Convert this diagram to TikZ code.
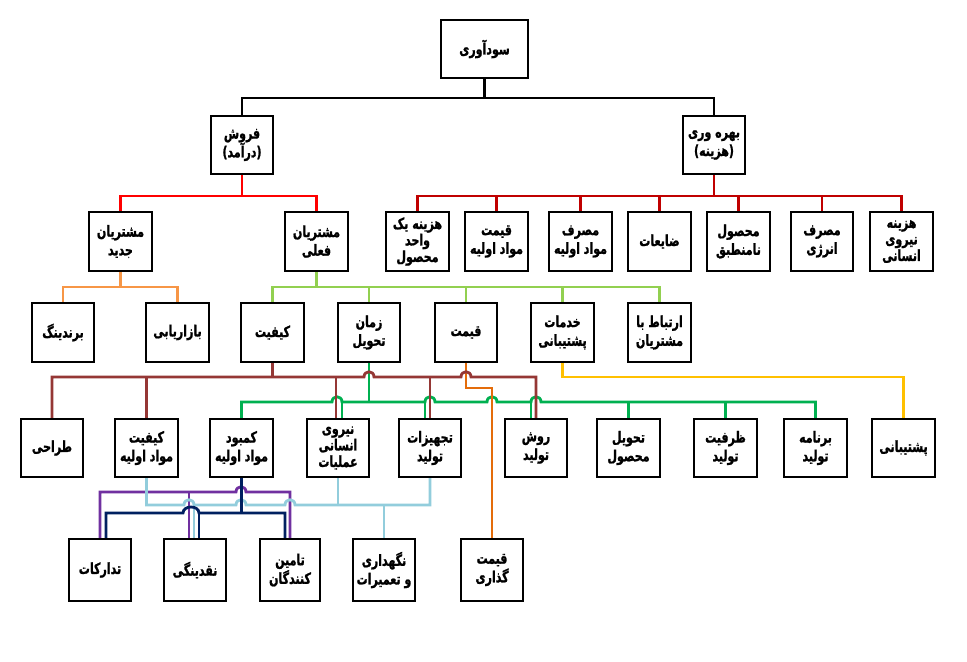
\documentclass[tikz,border=0pt]{standalone}
\usepackage{fontspec}
\newfontfamily\arabicfont[Script=Arabic,FakeStretch=0.72,BoldFeatures={FakeBold=1.2}]{DejaVu Sans}
\TeXXeTstate=1
\newcommand{\fa}[1]{\beginR #1\endR}
\definecolor{cdr}{HTML}{C00000}
\definecolor{col}{HTML}{F79646}
\definecolor{clg}{HTML}{92D050}
\definecolor{cbr}{HTML}{953735}
\definecolor{cdg}{HTML}{00B050}
\definecolor{cor}{HTML}{E46C0A}
\definecolor{cyl}{HTML}{FFC000}
\definecolor{clb}{HTML}{92CDDC}
\definecolor{cpu}{HTML}{7030A0}
\definecolor{cnv}{HTML}{002060}
\begin{document}
\begin{tikzpicture}[x=0.75pt,y=-0.75pt,
  box/.style={draw=black,line width=1.1pt,fill=white,minimum width=46.5pt,minimum height=43.5pt,inner sep=0pt,align=center,font=\arabicfont\bfseries\fontsize{11.5}{14}\selectfont},
  tight/.style={font=\arabicfont\bfseries\fontsize{11.5}{12.4}\selectfont},
  conn/.style={line width=2.1pt},
  ckb/.style={conn,draw=black},
  ckr/.style={conn,draw=red},
  ckd/.style={conn,draw=cdr},
  cko/.style={conn,draw=col},
  ckg/.style={conn,draw=clg},
  ckbr/.style={conn,draw=cbr},
  ckdg/.style={conn,draw=cdg},
  ckor/.style={conn,draw=cor},
  cky/.style={conn,draw=cyl},
  cklb/.style={conn,draw=clb},
  ckpu/.style={conn,draw=cpu},
  cknv/.style={conn,draw=cnv}]
\useasboundingbox (0,0) rectangle (967,661);
\fill[white] (0,0) rectangle (967,661);

% black
\draw[ckb] (484.5,78) -- (484.5,98);
\draw[ckb] (242,116) -- (242,98) -- (714,98) -- (714,116);
% red
\draw[ckr] (242,174) -- (242,196);
\draw[ckr] (120.5,213) -- (120.5,196) -- (316.5,196) -- (316.5,213);
\draw[ckd] (714,174) -- (714,196);
\draw[ckd] (417.5,213) -- (417.5,196) -- (901.5,196) -- (901.5,213);
\foreach \x in {496.5,580.5,659.5,738.5,822} \draw[ckd] (\x,196) -- (\x,213);

% nodes
\node[box,minimum width=65.25pt] (top) at (484.5,49) {\fa{سودآوری}};
\node[box] (sales) at (242,145) {\fa{فروش}\\\fa{(درآمد)}};
\node[box] (prod) at (714,145) {\fa{بهره وری}\\\fa{(هزینه)}};

\node[box] (c1) at (120.5,241.5) {\fa{مشتریان}\\\fa{جدید}};
\node[box] (c2) at (316.5,241.5) {\fa{مشتریان}\\\fa{فعلی}};
\node[box,tight] (c3) at (417.5,241.5) {\fa{هزینه یک}\\\fa{واحد}\\\fa{محصول}};
\node[box] (c4) at (496.5,241.5) {\fa{قیمت}\\\fa{مواد اولیه}};
\node[box] (c5) at (580.5,241.5) {\fa{مصرف}\\\fa{مواد اولیه}};
\node[box] (c6) at (659.5,241.5) {\fa{ضایعات}};
\node[box] (c7) at (738.5,241.5) {\fa{محصول}\\\fa{نامنطبق}};
\node[box] (c8) at (822,241.5) {\fa{مصرف}\\\fa{انرژی}};
\node[box,tight] (c9) at (901.5,241.5) {\fa{هزینه}\\\fa{نیروی}\\\fa{انسانی}};

\node[box] (r1) at (63,332.5) {\fa{برندینگ}};
\node[box] (r2) at (177.5,332.5) {\fa{بازاریابی}};
\node[box] (r3) at (272.5,332.5) {\fa{کیفیت}};
\node[box] (r4) at (369,332.5) {\fa{زمان}\\\fa{تحویل}};
\node[box] (r5) at (466,332.5) {\fa{قیمت}};
\node[box] (r6) at (562.5,332.5) {\fa{خدمات}\\\fa{پشتیبانی}};
\node[box] (r7) at (659.5,332.5) {\fa{ارتباط با}\\\fa{مشتریان}};

\node[box] (d1) at (52,448) {\fa{طراحی}};
\node[box] (d2) at (146.5,448) {\fa{کیفیت}\\\fa{مواد اولیه}};
\node[box] (d3) at (241.5,448) {\fa{کمبود}\\\fa{مواد اولیه}};
\node[box,tight] (d4) at (338,448) {\fa{نیروی}\\\fa{انسانی}\\\fa{عملیات}};
\node[box] (d5) at (430,448) {\fa{تجهیزات}\\\fa{تولید}};
\node[box] (d6) at (536,448) {\fa{روش}\\\fa{تولید}};
\node[box] (d7) at (628.5,448) {\fa{تحویل}\\\fa{محصول}};
\node[box] (d8) at (725.5,448) {\fa{ظرفیت}\\\fa{تولید}};
\node[box] (d9) at (815.5,448) {\fa{برنامه}\\\fa{تولید}};
\node[box] (d10) at (903.5,448) {\fa{پشتیبانی}};

\node[box,minimum height=46.5pt] (e1) at (100,570) {\fa{تدارکات}};
\node[box,minimum height=46.5pt] (e2) at (195,570) {\fa{نقدینگی}};
\node[box,minimum height=46.5pt,minimum width=45pt] (e3) at (290,570) {\fa{تامین}\\\fa{کنندگان}};
\node[box,minimum height=46.5pt] (e4) at (384,570) {\fa{نگهداری}\\\fa{و تعمیرات}};
\node[box,minimum height=46.5pt] (e5) at (492,570) {\fa{قیمت}\\\fa{گذاری}};

% light orange and light green
\draw[cko] (c1.south) -- (c1.south |- 0,287);
\draw[cko] (r1.north) -- (r1.north |- 0,287) -- (r2.north |- 0,287) -- (r2.north);
\draw[ckg] (c2.south) -- (c2.south |- 0,287);
\draw[ckg] (r3.north) -- (r3.north |- 0,287) -- (r7.north |- 0,287) -- (r7.north);
\foreach \n in {r4,r5,r6} \draw[ckg] (\n.north) -- (\n.north |- 0,287);

% yellow
\draw[cky] (r6.south) -- (r6.south |- 0,377) -- (d10.north |- 0,377) -- (d10.north);

% dark green (zaman tahvil)
\draw[ckdg] (r4.south) -- (r4.south |- 0,402);
\draw[ckdg] (d3.north) -- (d3.north |- 0,402) -- (332,402)
  .. controls (332,395) and (342,395) .. (342,402) -- (425,402)
  .. controls (425,395) and (435,395) .. (435,402) -- (487,402)
  .. controls (487,395) and (497,395) .. (497,402) -- (531,402)
  .. controls (531,395) and (541,395) .. (541,402) -- (d9.north |- 0,402) -- (d9.north);
\draw[ckdg] (342,402) -- (342,402 |- d4.north);
\draw[ckdg] (425,402) -- (425,402 |- d5.north);
\draw[ckdg] (531,402) -- (531,402 |- d6.north);
\foreach \n in {d7,d8} \draw[ckdg] (\n.north) -- (\n.north |- 0,402);

% orange (gheymat)
\draw[ckor] (r5.south) -- (r5.south |- 0,388) -- (e5.north |- 0,388) -- (e5.north);

% brown (keyfiyat)
\draw[ckbr] (r3.south) -- (r3.south |- 0,377);
\draw[ckbr] (d1.north) -- (d1.north |- 0,377) -- (364,377)
  .. controls (364,370) and (374,370) .. (374,377) -- (461,377)
  .. controls (461,370) and (471,370) .. (471,377) -- (d6.north |- 0,377) -- (d6.north);
\draw[ckbr] (d2.north) -- (d2.north |- 0,377);
\draw[ckbr] (336,377) -- (336,377 |- d4.north);
\draw[ckbr] (d5.north) -- (d5.north |- 0,377);

% purple
\draw[ckpu] (e1.north) -- (e1.north |- 0,492) -- (236,492)
  .. controls (236,485) and (246,485) .. (246,492) -- (e3.north |- 0,492) -- (e3.north);
\draw[ckpu] (189,492) -- (189,492 |- e2.north);

% light blue
\draw[cklb] (d2.south) -- (d2.south |- 0,505) -- (184,505)
  .. controls (184,498) and (194,498) .. (194,505) -- (236,505)
  .. controls (236,498) and (246,498) .. (246,505) -- (285,505)
  .. controls (285,498) and (295,498) .. (295,505) -- (d5.south |- 0,505) -- (d5.south);
\draw[cklb] (d4.south) -- (d4.south |- 0,505);
\draw[cklb] (194,505) -- (194,505 |- e2.north);
\draw[cklb] (e4.north) -- (e4.north |- 0,505);

% navy
\draw[cknv] (d3.south) -- (d3.south |- 0,513);
\draw[cknv] (106,513 |- e1.north) -- (106,513) -- (183,513)
  .. controls (183,505) and (199,505) .. (199,513) -- (285,513) -- (285,513 |- e3.north);
\draw[cknv] (199,513) -- (199,513 |- e2.north);

% box borders on top
\foreach \n in {top,sales,prod,c1,c2,c3,c4,c5,c6,c7,c8,c9,r1,r2,r3,r4,r5,r6,r7,d1,d2,d3,d4,d5,d6,d7,d8,d9,d10,e1,e2,e3,e4,e5}
  \draw[line width=1.1pt] (\n.north west) rectangle (\n.south east);
\end{tikzpicture}
\end{document}
